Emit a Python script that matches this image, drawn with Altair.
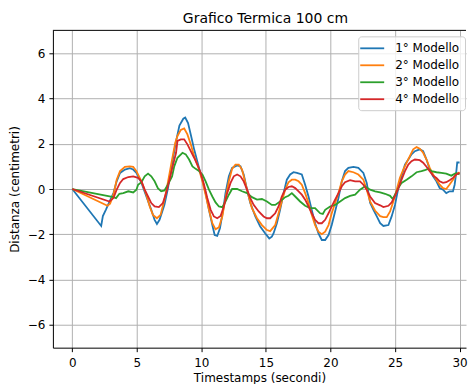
import altair as alt
import pandas as pd

series_names = ["1° Modello", "2° Modello", "3° Modello", "4° Modello"]
colors = ["#1f77b4", "#ff7f0e", "#2ca02c", "#d62728"]

t_1 = [0, 2.24, 2.37, 2.6, 2.85, 3.19, 3.44, 3.7, 4.08, 4.46, 4.72, 4.97, 5.36, 5.74, 6.12, 6.38, 6.56, 6.76, 7.14, 7.4, 7.7, 8.0, 8.3, 8.6, 8.75, 8.97, 9.2, 9.44, 9.82, 10.08, 10.33, 10.59, 10.85, 11.03, 11.23, 11.44, 11.69, 11.87, 12.13, 12.38, 12.77, 13.03, 13.28, 13.54, 13.79, 14.18, 14.56, 14.95, 15.26, 15.46, 15.59, 15.85, 16.1, 16.37, 16.62, 16.88, 17.14, 17.4, 17.78, 18.04, 18.3, 18.55, 18.81, 19.07, 19.33, 19.59, 19.85, 20.1, 20.36, 20.62, 20.88, 21.13, 21.39, 21.78, 22.16, 22.55, 22.81, 23.07, 23.33, 23.59, 23.85, 24.1, 24.49, 24.74, 25.0, 25.26, 25.51, 25.77, 26.03, 26.28, 26.54, 26.92, 27.18, 27.44, 27.69, 27.95, 28.21, 28.46, 28.72, 28.97, 29.23, 29.49, 29.62, 29.74, 29.82, 30.0]
y_1 = [0, -1.63, -1.19, -0.92, -0.6, -0.18, 0.34, 0.71, 0.86, 0.92, 0.86, 0.71, 0.27, -0.33, -0.92, -1.36, -1.54, -1.36, -0.7, 0.0, 1.0, 2.0, 2.8, 3.1, 3.15, 2.91, 2.35, 1.75, 0.93, 0.41, -0.18, -0.92, -1.59, -2.03, -2.07, -1.73, -0.92, -0.18, 0.56, 0.93, 1.04, 1.0, 0.64, -0.03, -0.62, -1.21, -1.66, -1.96, -2.18, -2.1, -1.96, -1.51, -0.92, -0.18, 0.41, 0.64, 0.74, 0.71, 0.64, 0.19, -0.33, -0.92, -1.51, -1.96, -2.25, -2.25, -2.03, -1.59, -0.99, -0.4, 0.34, 0.79, 0.93, 0.98, 0.93, 0.71, 0.27, -0.6, -0.92, -1.21, -1.51, -1.63, -1.59, -1.21, -0.7, 0.04, 0.56, 1.08, 1.3, 1.53, 1.67, 1.75, 1.67, 1.3, 0.86, 0.56, 0.34, 0.04, -0.03, -0.18, -0.1, -0.1, 0.19, 0.71, 1.17, 1.17]

t_2 = [0, 2.73, 2.93, 3.19, 3.44, 3.7, 4.08, 4.46, 4.72, 4.97, 5.36, 5.74, 6.0, 6.25, 6.56, 6.84, 7.14, 7.4, 7.73, 7.98, 8.15, 8.41, 8.67, 8.92, 9.18, 9.44, 9.82, 10.08, 10.33, 10.59, 10.85, 11.1, 11.36, 11.62, 11.87, 12.13, 12.38, 12.64, 12.9, 13.15, 13.41, 13.67, 13.92, 14.31, 14.69, 15.08, 15.33, 15.72, 15.98, 16.23, 16.49, 16.75, 17.01, 17.27, 17.53, 17.78, 18.04, 18.3, 18.55, 18.81, 19.07, 19.33, 19.59, 19.85, 20.1, 20.36, 20.62, 20.88, 21.13, 21.39, 21.78, 22.16, 22.55, 22.81, 23.07, 23.45, 23.85, 24.1, 24.36, 24.62, 24.87, 25.13, 25.38, 25.64, 25.9, 26.15, 26.41, 26.67, 26.92, 27.18, 27.44, 27.69, 27.95, 28.21, 28.46, 28.72, 28.97, 29.23, 29.49, 29.74, 30.0]
y_2 = [0, -0.74, -0.65, -0.25, 0.41, 0.79, 0.98, 1.0, 0.98, 0.79, 0.34, -0.25, -0.77, -1.14, -1.29, -1.14, -0.47, 0.27, 1.3, 2.04, 2.34, 2.61, 2.67, 2.41, 1.97, 1.45, 0.86, 0.34, -0.25, -0.92, -1.51, -1.78, -1.69, -1.21, -0.4, 0.34, 0.89, 1.08, 1.08, 0.86, 0.27, -0.33, -0.84, -1.29, -1.59, -1.81, -1.86, -1.59, -1.07, -0.55, -0.03, 0.3, 0.41, 0.41, 0.34, 0.19, -0.18, -0.62, -1.14, -1.59, -1.88, -1.99, -1.88, -1.59, -1.07, -0.62, -0.18, 0.34, 0.64, 0.79, 0.74, 0.64, 0.41, -0.03, -0.55, -0.95, -1.2, -1.24, -1.24, -0.99, -0.55, -0.03, 0.49, 0.86, 1.16, 1.45, 1.75, 1.85, 1.78, 1.6, 1.3, 0.93, 0.64, 0.41, 0.19, 0.04, 0.0, 0.2, 0.41, 0.64, 0.74]

t_3 = [0, 3.19, 3.39, 3.65, 3.95, 4.34, 4.72, 4.97, 5.1, 5.36, 5.61, 5.87, 6.12, 6.38, 6.63, 6.89, 7.14, 7.4, 7.73, 7.9, 8.15, 8.54, 8.79, 9.05, 9.31, 9.56, 9.82, 10.08, 10.33, 10.59, 10.85, 11.1, 11.36, 11.62, 11.87, 12.13, 12.38, 12.77, 13.15, 13.54, 13.92, 14.31, 14.69, 15.08, 15.46, 15.72, 16.1, 16.49, 16.75, 17.01, 17.27, 17.65, 18.04, 18.43, 18.81, 19.2, 19.41, 19.59, 19.97, 20.36, 20.75, 21.13, 21.52, 21.91, 22.29, 22.68, 23.07, 23.46, 23.85, 24.23, 24.62, 24.82, 25.0, 25.26, 25.51, 25.9, 26.28, 26.67, 27.05, 27.31, 27.56, 27.82, 28.21, 28.59, 28.97, 29.36, 29.74, 30.0]
y_3 = [0, -0.36, -0.4, -0.21, -0.18, -0.1, -0.15, -0.03, 0.19, 0.3, 0.56, 0.68, 0.56, 0.34, 0.04, -0.1, -0.06, 0.19, 0.56, 1.0, 1.38, 1.6, 1.53, 1.3, 1.0, 0.89, 0.79, 0.64, 0.34, -0.03, -0.33, -0.59, -0.77, -0.8, -0.55, -0.25, 0.0, 0.0, -0.1, -0.18, -0.36, -0.47, -0.44, -0.55, -0.7, -0.7, -0.55, -0.36, -0.3, -0.18, -0.33, -0.55, -0.74, -0.84, -0.84, -1.07, -1.1, -0.92, -0.77, -0.7, -0.55, -0.4, -0.3, -0.25, -0.03, 0.12, -0.03, -0.1, -0.15, -0.21, -0.3, -0.44, -0.25, 0.04, 0.27, 0.41, 0.56, 0.74, 0.79, 0.83, 0.89, 0.79, 0.74, 0.71, 0.68, 0.59, 0.71, 0.64]

t_4 = [0, 2.88, 3.19, 3.44, 3.7, 3.95, 4.34, 4.72, 5.1, 5.36, 5.61, 5.87, 6.12, 6.38, 6.71, 7.02, 7.27, 7.53, 7.78, 8.04, 8.15, 8.41, 8.67, 8.92, 9.18, 9.44, 9.69, 9.95, 10.21, 10.46, 10.72, 10.97, 11.23, 11.49, 11.74, 12.0, 12.26, 12.51, 12.77, 13.03, 13.28, 13.54, 13.79, 14.05, 14.44, 14.82, 15.08, 15.33, 15.72, 15.98, 16.23, 16.49, 16.75, 17.01, 17.27, 17.53, 17.78, 18.04, 18.3, 18.55, 18.81, 19.07, 19.33, 19.59, 19.85, 20.1, 20.36, 20.62, 20.88, 21.13, 21.52, 21.91, 22.29, 22.55, 22.81, 23.07, 23.45, 23.85, 24.1, 24.49, 24.74, 25.0, 25.26, 25.51, 25.77, 26.03, 26.28, 26.54, 26.92, 27.18, 27.44, 27.69, 27.95, 28.21, 28.46, 28.72, 28.97, 29.23, 29.49, 29.74, 30.0]
y_4 = [0, -0.55, -0.4, -0.03, 0.27, 0.44, 0.53, 0.56, 0.49, 0.34, -0.03, -0.33, -0.62, -0.77, -0.8, -0.62, -0.18, 0.41, 1.0, 1.6, 2.12, 2.19, 2.19, 1.97, 1.67, 1.38, 1.08, 0.71, 0.19, -0.4, -0.92, -1.21, -1.29, -1.19, -0.77, -0.18, 0.27, 0.56, 0.64, 0.56, 0.34, -0.03, -0.4, -0.7, -0.99, -1.21, -1.29, -1.29, -1.07, -0.77, -0.33, -0.03, 0.09, 0.12, 0.04, -0.1, -0.25, -0.47, -0.77, -1.07, -1.36, -1.51, -1.51, -1.36, -1.07, -0.77, -0.47, -0.18, 0.12, 0.3, 0.39, 0.34, 0.34, 0.19, -0.03, -0.33, -0.62, -0.72, -0.8, -0.74, -0.59, -0.3, 0.04, 0.41, 0.79, 1.08, 1.23, 1.3, 1.27, 1.16, 0.98, 0.79, 0.59, 0.49, 0.34, 0.27, 0.3, 0.39, 0.49, 0.64, 0.71]

x_ticks = [0, 5, 10, 15, 20, 25, 30]
y_ticks = [-6, -4, -2, 0, 2, 4, 6]

frames = []
for name, ts, ys in zip(series_names, [t_1, t_2, t_3, t_4], [y_1, y_2, y_3, y_4]):
    frames.append(pd.DataFrame({"t": ts, "v": ys, "serie": name}))
df = pd.concat(frames, ignore_index=True)
df["ord"] = range(len(df))

FONT = "DejaVu Sans"

lines = alt.Chart(df).mark_line(strokeWidth=1.8, clip=True).encode(
    x=alt.X("t:Q", scale=alt.Scale(domain=[-1.5, 30.5], nice=False, zero=False),
            axis=alt.Axis(values=x_ticks, title="Timestamps (secondi)", format="d",
                          labelPadding=6, titlePadding=4)),
    y=alt.Y("v:Q", scale=alt.Scale(domain=[-7, 7], nice=False),
            axis=alt.Axis(values=y_ticks, title="Distanza (centimetri)", format="d",
                          labelPadding=4, titlePadding=6)),
    color=alt.Color("serie:N", scale=alt.Scale(domain=series_names, range=colors),
                    legend=alt.Legend(title=None, orient="none", legendX=306, legendY=6,
                                      symbolType="M-2,0H2", symbolSize=144, symbolStrokeWidth=1.8,
                                      symbolOffset=2,
                                      labelFontSize=12, labelFont=FONT, labelColor="black",
                                      labelOffset=16, rowPadding=4, padding=5,
                                      strokeColor="#cccccc", fillColor="rgba(255,255,255,0.8)",
                                      cornerRadius=3)),
    detail="serie:N",
    order="ord:Q",
)

top_spine = alt.Chart(df).mark_rule(color="black", strokeWidth=1).encode(
    y=alt.value(0)
).transform_filter(alt.datum.ord == 0)

chart = alt.layer(lines, top_spine).properties(
    width=414,
    height=318,
    title=alt.TitleParams("Grafico Termica 100 cm", fontSize=14, font=FONT, fontWeight="normal",
                          color="black", anchor="middle", offset=4, dx=6),
    padding={"left": 0, "top": 3, "right": 0, "bottom": 0},
).configure_axis(
    grid=True, gridColor="#b0b0b0", gridWidth=1,
    domainColor="black", domainWidth=1, tickColor="black", tickSize=4, tickWidth=1,
    labelFont=FONT, labelFontSize=12, labelColor="black",
    titleFont=FONT, titleFontSize=12, titleFontWeight="normal", titleColor="black",
).configure_view(
    stroke=None
)

chart.save("out.html", embed_options={"renderer": "svg", "actions": False})
